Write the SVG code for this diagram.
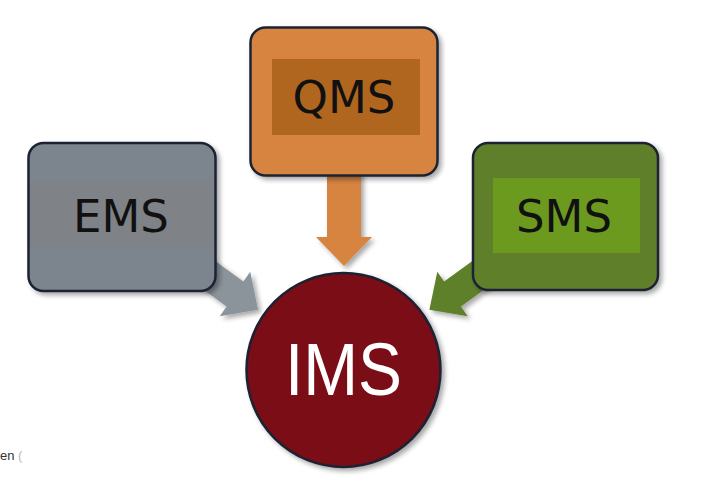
<svg xmlns="http://www.w3.org/2000/svg" width="705" height="484" viewBox="0 0 705 484">
  <defs>
    <filter id="shadow" x="-20%" y="-20%" width="140%" height="140%">
      <feGaussianBlur in="SourceAlpha" stdDeviation="2.5"/>
      <feOffset dx="3" dy="3" result="b"/>
      <feComponentTransfer><feFuncA type="linear" slope="0.35"/></feComponentTransfer>
      <feMerge><feMergeNode/><feMergeNode in="SourceGraphic"/></feMerge>
    </filter>
  </defs>
  <style>
    .box { stroke: #1b2233; stroke-width: 2.5; }
    .lbl { font-family: "DejaVu Sans", Verdana, sans-serif; font-size: 45px; fill: #111; text-anchor: middle; }
    .ims { font-family: "Liberation Sans", Arial, sans-serif; font-size: 74px; fill: #ffffff; text-anchor: middle; }
  </style>
  <rect width="705" height="484" fill="#ffffff"/>
  <g id="connectors" filter="url(#shadow)">
    <polygon id="arrow-qms" fill="#d6843f" points="327,170 361,170 361,237 372,237 344,266 316,237 327,237"/>
    <polygon id="arrow-ems" fill="#8b949a" points="203.4,252.6 243.4,281.6 250.2,271.7 258.1,309.8 219.8,316.3 226.6,306.4 186.6,277.4"/>
    <polygon id="arrow-sms" fill="#5f8029" points="484.1,252.6 444.1,281.6 437.3,271.7 429.4,309.8 467.7,316.3 460.9,306.4 500.9,277.4"/>
  </g>
  <g id="qms">
    <rect class="box" x="250.5" y="27.5" width="187" height="148" rx="15" fill="#d6843f" filter="url(#shadow)"/>
    <rect x="272" y="59" width="148" height="76" fill="#b0661f"/>
    <text class="lbl" x="344" y="113">QMS</text>
  </g>
  <g id="ems">
    <rect class="box" x="28.5" y="143" width="187" height="148" rx="15" fill="#7b848d" filter="url(#shadow)"/>
    <rect x="30" y="180" width="184" height="68" fill="#7f8287"/>
    <text class="lbl" x="121" y="232">EMS</text>
  </g>
  <g id="sms">
    <rect class="box" x="473" y="143" width="185" height="147" rx="15" fill="#617f2c" filter="url(#shadow)"/>
    <rect x="493" y="178" width="147" height="75" fill="#6c9a1f"/>
    <text class="lbl" x="564" y="232">SMS</text>
  </g>
  <g id="ims">
    <circle cx="343.5" cy="370" r="97" fill="#7a0a19" stroke="#1b2233" stroke-width="2.5" filter="url(#shadow)"/>
    <text class="ims" x="343.5" y="395" textLength="117" lengthAdjust="spacingAndGlyphs">IMS</text>
  </g>
  <text x="0" y="460" font-family="Liberation Sans, Arial, sans-serif" font-size="13" fill="#333">en <tspan fill="#bbb">(</tspan></text>
</svg>
